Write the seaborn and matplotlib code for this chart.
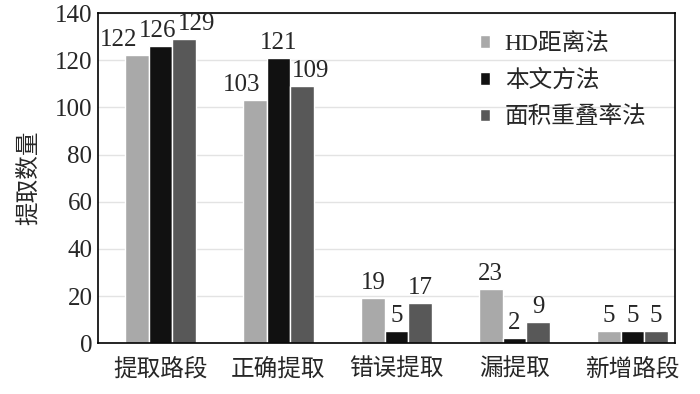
import matplotlib
matplotlib.use("Agg")
import matplotlib.pyplot as plt
import seaborn as sns
import pandas as pd

categories = ["提取路段", "正确提取", "错误提取", "漏提取", "新增路段"]
series_names = ["HD距离法", "本文方法", "面积重叠率法"]
hd_values = [122, 103, 19, 23, 5]
ours_values = [126, 121, 5, 2, 5]
area_values = [129, 109, 17, 9, 5]
colors = ["#a9a9a9", "#111111", "#585858"]

df = pd.DataFrame({
    "cat": categories * 3,
    "method": sum([[s] * len(categories) for s in series_names], []),
    "value": hd_values + ours_values + area_values,
})

sns.set_theme(style="white")
plt.rcParams['font.family'] = ['Liberation Serif', 'Noto Sans CJK SC']

fig, ax = plt.subplots(figsize=(7.0, 3.94), dpi=100)
fig.subplots_adjust(left=0.14, right=0.964, top=0.967, bottom=0.129)

sns.barplot(data=df, x="cat", y="value", hue="method", palette=colors,
            width=0.6, saturation=1, ax=ax, zorder=2, legend=True)

# horizontal label shifts (pixels) to keep crowded labels apart
label_shift = {0: [-18, -3, 12], 1: [-13, 0, 8]}
for h, cont in enumerate(ax.containers):
    for i, bar in enumerate(cont):
        val = bar.get_height()
        dx = label_shift.get(i, [0, 0, 0])[h]
        ax.annotate(f"{int(round(val))}",
                    xy=(bar.get_x() + bar.get_width() / 2, val),
                    xytext=(dx, 4), textcoords="offset pixels",
                    ha="center", va="bottom", fontsize=18)

ax.set_ylim(0, 140)
ax.set_yticks(range(0, 141, 20))
ax.set_xlim(-0.53, 4.36)
ax.yaxis.grid(True, color="#e3e3e3", linewidth=1.0, zorder=0)
ax.set_axisbelow(True)
ax.tick_params(axis="y", labelsize=18, length=0, pad=4)
ax.tick_params(axis="x", labelsize=17, length=0, pad=11)
ax.set_xlabel("")
ax.set_ylabel("提取数量", fontsize=17, labelpad=11)
for s in ax.spines.values():
    s.set_color("#000000")
    s.set_linewidth(1.2)

leg = ax.legend(loc="upper left", bbox_to_anchor=(0.662, 0.94), frameon=False,
                fontsize=17, handlelength=0.45, handleheight=0.45,
                handletextpad=0.6, labelspacing=0.62, borderpad=0,
                borderaxespad=0)

fig.savefig("out.png", dpi=100)
